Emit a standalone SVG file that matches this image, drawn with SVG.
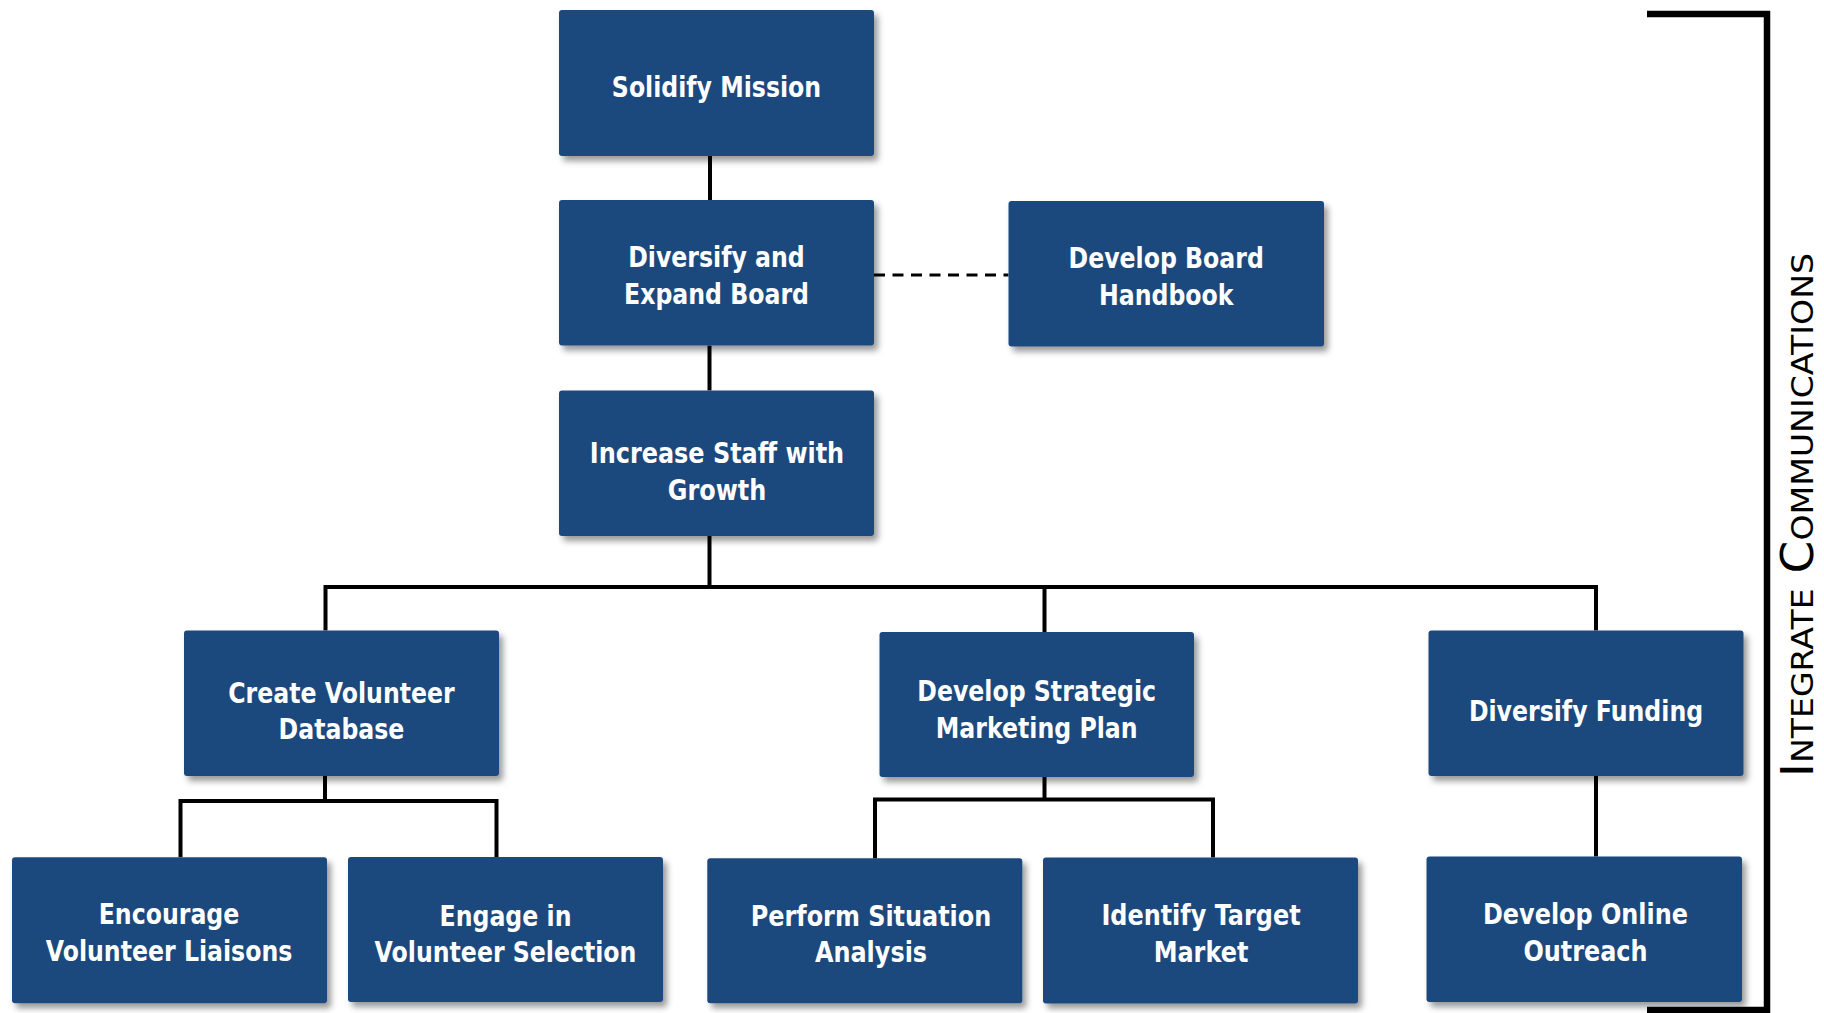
<svg xmlns="http://www.w3.org/2000/svg" width="1824" height="1013" viewBox="0 0 1824 1013">
  <defs>
    <filter id="shadow" x="-10%" y="-10%" width="125%" height="130%">
      <feDropShadow dx="4" dy="5" stdDeviation="3" flood-color="#000" flood-opacity="0.4"/>
    </filter>
    <style>
      .box { fill: #1F497D; filter: url(#shadow); }
      .lbl { font-family: "DejaVu Sans", "Liberation Sans", sans-serif; font-weight: bold; font-size: 27.5px; fill: #FFFFFF; text-anchor: middle; }
      .conn { fill: none; stroke: #000; stroke-width: 4; stroke-linejoin: miter; }
      .dash { fill: none; stroke: #000; stroke-width: 3; stroke-dasharray: 11 7.5; }
      .bracket { fill: none; stroke: #000; stroke-width: 6.5; stroke-linejoin: miter; }
      .side { font-family: "DejaVu Sans", "Liberation Sans", sans-serif; font-size: 44px; font-variant: small-caps; fill: #000; }
    </style>
  </defs>
  <rect width="1824" height="1013" fill="#FFFFFF"/>

  <g id="connectors">
    <path class="conn" d="M710 156 V200"/>
    <path class="conn" d="M709.5 345.5 V390.5"/>
    <path class="conn" d="M709.5 536 V587"/>
    <path class="conn" d="M325.5 630.5 V587 H1596 V630.5"/>
    <path class="conn" d="M1044.5 587 V632"/>
    <path class="conn" d="M325 776 V801"/>
    <path class="conn" d="M180.5 857.3 V801 H496.5 V857"/>
    <path class="conn" d="M1044.5 777 V799.5"/>
    <path class="conn" d="M875 858.5 V799.5 H1213 V857.5"/>
    <path class="conn" d="M1596 776 V856.5"/>
    <path class="dash" d="M874 275 H1008.5"/>
  </g>

  <g id="solidify-mission">
    <rect class="box" x="559" y="10" width="315" height="146" rx="3"/>
    <text class="lbl" transform="translate(716.5 0) scale(0.86 1)"><tspan x="0" y="97.3">Solidify Mission</tspan></text>
  </g>
  <g id="diversify-expand-board">
    <rect class="box" x="559" y="200" width="315" height="145.5" rx="3"/>
    <text class="lbl" transform="translate(716.5 0) scale(0.86 1)"><tspan x="0" y="267.5">Diversify and</tspan><tspan x="0" y="304">Expand Board</tspan></text>
  </g>
  <g id="develop-board-handbook">
    <rect class="box" x="1008.5" y="201" width="315.5" height="145.5" rx="3"/>
    <text class="lbl" transform="translate(1166.2 0) scale(0.86 1)"><tspan x="0" y="268.5">Develop Board</tspan><tspan x="0" y="305">Handbook</tspan></text>
  </g>
  <g id="increase-staff">
    <rect class="box" x="559" y="390.5" width="315" height="145.5" rx="3"/>
    <text class="lbl" transform="translate(717 0) scale(0.87 1)"><tspan x="0" y="463">Increase Staff with</tspan><tspan x="0" y="500">Growth</tspan></text>
  </g>
  <g id="create-volunteer-database">
    <rect class="box" x="184" y="630.5" width="315" height="145.5" rx="3"/>
    <text class="lbl" transform="translate(341.5 0) scale(0.86 1)"><tspan x="0" y="702.7">Create Volunteer</tspan><tspan x="0" y="739.4">Database</tspan></text>
  </g>
  <g id="develop-strategic-marketing-plan">
    <rect class="box" x="879.5" y="632" width="314.5" height="145" rx="3"/>
    <text class="lbl" transform="translate(1036.7 0) scale(0.86 1)"><tspan x="0" y="701">Develop Strategic</tspan><tspan x="0" y="738">Marketing Plan</tspan></text>
  </g>
  <g id="diversify-funding">
    <rect class="box" x="1428.5" y="630.5" width="315" height="145.5" rx="3"/>
    <text class="lbl" transform="translate(1586 0) scale(0.86 1)"><tspan x="0" y="721">Diversify Funding</tspan></text>
  </g>
  <g id="encourage-volunteer-liaisons">
    <rect class="box" x="12" y="857.3" width="315" height="146" rx="3"/>
    <text class="lbl" transform="translate(169 0) scale(0.86 1)"><tspan x="0" y="924">Encourage</tspan><tspan x="0" y="961">Volunteer Liaisons</tspan></text>
  </g>
  <g id="engage-volunteer-selection">
    <rect class="box" x="348" y="857" width="315" height="145" rx="3"/>
    <text class="lbl" transform="translate(505.5 0) scale(0.86 1)"><tspan x="0" y="926">Engage in</tspan><tspan x="0" y="962">Volunteer Selection</tspan></text>
  </g>
  <g id="perform-situation-analysis">
    <rect class="box" x="707.3" y="858.3" width="315" height="145" rx="3"/>
    <text class="lbl" transform="translate(871 0) scale(0.87 1)"><tspan x="0" y="926">Perform Situation</tspan><tspan x="0" y="962.5">Analysis</tspan></text>
  </g>
  <g id="identify-target-market">
    <rect class="box" x="1043" y="857.5" width="315" height="146" rx="3"/>
    <text class="lbl" transform="translate(1201 0) scale(0.87 1)"><tspan x="0" y="925">Identify Target</tspan><tspan x="0" y="962">Market</tspan></text>
  </g>
  <g id="develop-online-outreach">
    <rect class="box" x="1426.5" y="856.5" width="315.5" height="145.5" rx="3"/>
    <text class="lbl" transform="translate(1585.5 0) scale(0.87 1)"><tspan x="0" y="924">Develop Online</tspan><tspan x="0" y="960.6">Outreach</tspan></text>
  </g>

  <g id="integrate-communications">
    <path class="bracket" d="M1647 14 H1767 V1010 H1647"/>
    <text class="side" transform="translate(1813 777) rotate(-90)" x="0" y="0" textLength="524" lengthAdjust="spacingAndGlyphs">Integrate Communications</text>
  </g>
</svg>
